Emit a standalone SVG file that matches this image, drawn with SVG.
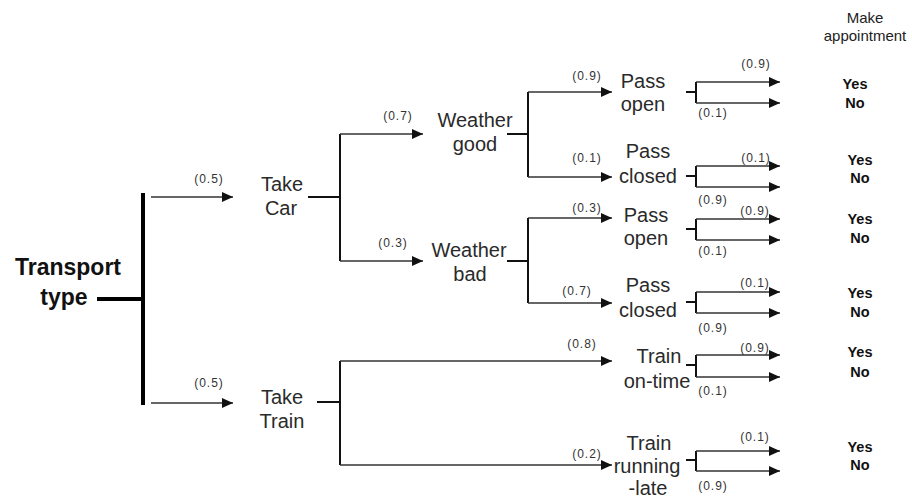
<svg xmlns="http://www.w3.org/2000/svg" width="912" height="499" viewBox="0 0 912 499">
<defs>
<marker id="ah" markerUnits="userSpaceOnUse" markerWidth="12" markerHeight="10" refX="11" refY="5" orient="auto">
<path d="M0,0 L11,5 L0,10 z" fill="#111"/>
</marker>
<style>
.n{font-family:"Liberation Sans",Arial,sans-serif;font-size:20px;fill:#2a2a2a;text-anchor:middle}
.p{font-family:"Liberation Sans",Arial,sans-serif;font-size:12px;fill:#333;text-anchor:middle;letter-spacing:1px}
.o{font-family:"Liberation Sans",Arial,sans-serif;font-size:14.5px;font-weight:bold;fill:#111;text-anchor:middle}
.h{font-family:"Liberation Sans",Arial,sans-serif;font-size:15px;fill:#222;text-anchor:middle}
.t{font-family:"Liberation Sans",Arial,sans-serif;font-size:23px;font-weight:bold;fill:#111;text-anchor:middle}
.a{stroke:#333;stroke-width:1.5;fill:none;marker-end:url(#ah)}
.f{stroke:#111;stroke-width:2;fill:none}
.b{stroke:#000;stroke-width:4;fill:none}
</style>
</defs>
<g id="connectors">
<line class="b" x1="143" y1="193" x2="143" y2="405"/>
<line class="b" x1="97" y1="299" x2="143" y2="299"/>
<line class="a" x1="151" y1="197" x2="233" y2="197"/>
<line class="a" x1="151" y1="403" x2="233" y2="403"/>
<path class="f" d="M308,197 H340 M340,134 V261"/>
<line class="a" x1="340" y1="134" x2="423" y2="134"/>
<line class="a" x1="340" y1="261" x2="423" y2="261"/>
<path class="f" d="M317,402 H340 M340,361 V465"/>
<line class="a" x1="340" y1="361" x2="612" y2="361"/>
<line class="a" x1="340" y1="465" x2="612" y2="465"/>
<path class="f" d="M507,134 H528 M528,92 V177"/>
<line class="a" x1="528" y1="92" x2="612" y2="92"/>
<line class="a" x1="528" y1="177" x2="612" y2="177"/>
<path class="f" d="M507,261 H528 M528,218 V303"/>
<line class="a" x1="528" y1="218" x2="612" y2="218"/>
<line class="a" x1="528" y1="303" x2="612" y2="303"/>
<path class="f" d="M686,92 H696 M696,82 V103"/>
<line class="a" x1="696" y1="82" x2="780" y2="82"/>
<line class="a" x1="696" y1="103" x2="780" y2="103"/>
<path class="f" d="M686,176 H696 M696,166 V187"/>
<line class="a" x1="696" y1="166" x2="780" y2="166"/>
<line class="a" x1="696" y1="187" x2="780" y2="187"/>
<path class="f" d="M686,229 H696 M696,219 V240"/>
<line class="a" x1="696" y1="219" x2="780" y2="219"/>
<line class="a" x1="696" y1="240" x2="780" y2="240"/>
<path class="f" d="M686,302 H696 M696,292 V313"/>
<line class="a" x1="696" y1="292" x2="780" y2="292"/>
<line class="a" x1="696" y1="313" x2="780" y2="313"/>
<path class="f" d="M686,365 H696 M696,355 V377"/>
<line class="a" x1="696" y1="355" x2="780" y2="355"/>
<line class="a" x1="696" y1="377" x2="780" y2="377"/>
<path class="f" d="M686,460 H696 M696,451 V471"/>
<line class="a" x1="696" y1="451" x2="780" y2="451"/>
<line class="a" x1="696" y1="471" x2="780" y2="471"/>
</g>
<g id="probabilities">
<text class="p" x="209" y="183">(0.5)</text>
<text class="p" x="209" y="387">(0.5)</text>
<text class="p" x="398" y="120">(0.7)</text>
<text class="p" x="393" y="247">(0.3)</text>
<text class="p" x="587" y="80">(0.9)</text>
<text class="p" x="587" y="162">(0.1)</text>
<text class="p" x="587" y="212">(0.3)</text>
<text class="p" x="577" y="295">(0.7)</text>
<text class="p" x="582" y="348">(0.8)</text>
<text class="p" x="587" y="458">(0.2)</text>
<text class="p" x="756" y="68">(0.9)</text>
<text class="p" x="713" y="117">(0.1)</text>
<text class="p" x="756" y="162">(0.1)</text>
<text class="p" x="713" y="204">(0.9)</text>
<text class="p" x="755" y="215">(0.9)</text>
<text class="p" x="713" y="255">(0.1)</text>
<text class="p" x="755" y="287">(0.1)</text>
<text class="p" x="713" y="332">(0.9)</text>
<text class="p" x="755" y="352">(0.9)</text>
<text class="p" x="713" y="395">(0.1)</text>
<text class="p" x="755" y="441">(0.1)</text>
<text class="p" x="713" y="490">(0.9)</text>
</g>
<g id="transport-type"><text class="t" x="68" y="275">Transport</text><text class="t" x="64" y="305">type</text></g>
<g id="take-car"><text class="n" x="282" y="191">Take</text><text class="n" x="281" y="215">Car</text></g>
<g id="take-train"><text class="n" x="282" y="404">Take</text><text class="n" x="282" y="428">Train</text></g>
<g id="weather-good"><text class="n" x="475" y="127">Weather</text><text class="n" x="475" y="151">good</text></g>
<g id="weather-bad"><text class="n" x="469" y="257">Weather</text><text class="n" x="470" y="281">bad</text></g>
<g id="pass-open-1"><text class="n" x="643" y="88">Pass</text><text class="n" x="643" y="111">open</text></g>
<g id="pass-closed-1"><text class="n" x="648" y="158">Pass</text><text class="n" x="648" y="183">closed</text></g>
<g id="pass-open-2"><text class="n" x="646" y="222">Pass</text><text class="n" x="646" y="245">open</text></g>
<g id="pass-closed-2"><text class="n" x="648" y="292">Pass</text><text class="n" x="648" y="317">closed</text></g>
<g id="train-on-time"><text class="n" x="659" y="363">Train</text><text class="n" x="657" y="388">on-time</text></g>
<g id="train-running-late"><text class="n" x="649" y="450">Train</text><text class="n" x="647" y="473">running</text><text class="n" x="648" y="495">-late</text></g>
<g id="make-appointment"><text class="h" x="865" y="23">Make</text><text class="h" x="865" y="41">appointment</text></g>
<g id="outcome-1"><text class="o" x="855" y="89">Yes</text><text class="o" x="855" y="108">No</text></g>
<g id="outcome-2"><text class="o" x="860" y="165">Yes</text><text class="o" x="860" y="183">No</text></g>
<g id="outcome-3"><text class="o" x="860" y="224">Yes</text><text class="o" x="860" y="243">No</text></g>
<g id="outcome-4"><text class="o" x="860" y="298">Yes</text><text class="o" x="860" y="317">No</text></g>
<g id="outcome-5"><text class="o" x="860" y="357">Yes</text><text class="o" x="860" y="377">No</text></g>
<g id="outcome-6"><text class="o" x="860" y="452">Yes</text><text class="o" x="860" y="470">No</text></g>
</svg>
